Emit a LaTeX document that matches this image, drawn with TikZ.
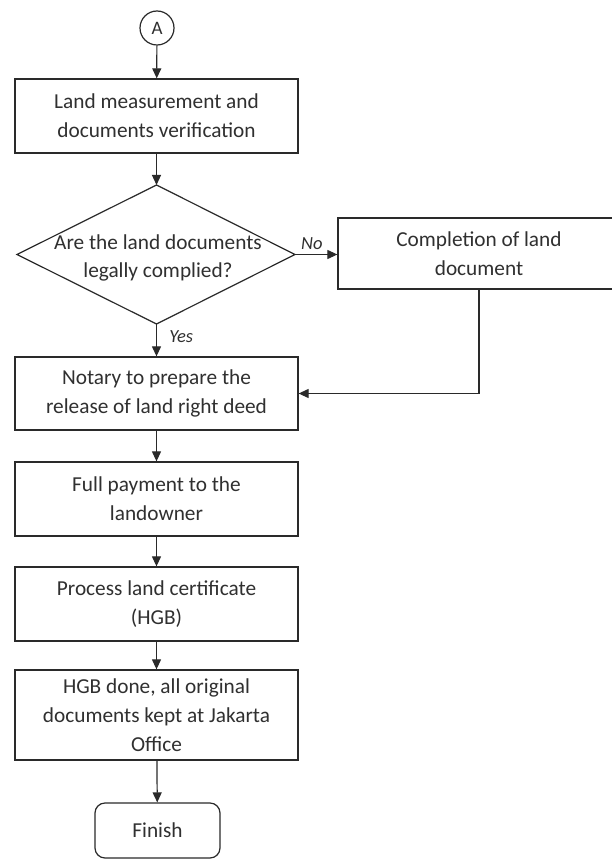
\documentclass[tikz,border=0pt]{standalone}
\usepackage{fontspec}
\setmainfont{Carlito}
\usetikzlibrary{arrows.meta,calc}
\definecolor{ink}{HTML}{2A2A2A}
\definecolor{txt}{HTML}{303030}
\begin{document}
\begin{tikzpicture}[x=1pt,y=-1pt,
  every node/.style={text=txt},
  procbox/.style={draw=ink,line width=1.3pt,rectangle,minimum width=283pt,align=center,font=\fontsize{21.3}{28.7}\selectfont,inner sep=0pt},
  conn/.style={draw=ink,line width=1.2pt,-{Triangle[length=10pt,width=9pt]}},
  lbl/.style={font=\fontsize{18.5}{20}\selectfont\itshape}]
\useasboundingbox (0,0) rectangle (611,861);
\fill[white] (0,0) rectangle (611,861);

\node[draw=ink,line width=1.2pt,circle,minimum size=34pt,inner sep=0pt,font=\fontsize{19}{20}\selectfont] (A) at (157,28) {A};
\node[procbox,minimum height=74pt] (b1) at (156.5,116) {Land measurement and\\documents verification};

% decision diamond
\coordinate (dT) at (156.5,185);
\coordinate (dB) at (156.5,324);
\coordinate (dL) at (17,254.5);
\coordinate (dR) at (295,254.5);
\draw[ink,line width=1.2pt] (dT) -- (dR) -- (dB) -- (dL) -- cycle;
\node[align=center,font=\fontsize{21.3}{28.7}\selectfont] (dq) at (158,258) {Are the land documents\\legally complied?};

\node[procbox,minimum width=282pt,minimum height=71pt] (c) at (479,253.5) {Completion of land\\document};

\node[procbox,minimum height=73pt] (b3) at (156.5,393.5) {Notary to prepare the\\release of land right deed};
\node[procbox,minimum height=74pt] (b4) at (156.5,499) {Full payment to the\\landowner};
\node[procbox,minimum height=74pt] (b5) at (156.5,604) {Process land certificate\\(HGB)};
\node[procbox,minimum height=90pt] (b6) at (156.5,715) {HGB done, all original\\documents kept at Jakarta\\Office};
\node[draw=ink,line width=1.2pt,rectangle,rounded corners=10pt,minimum width=125pt,minimum height=55pt,font=\fontsize{21.3}{28.7}\selectfont] (fin) at (157.5,830.5) {Finish};

\draw[conn] (A) -- (b1);
\draw[conn] (b1) -- (dT);
\draw[conn] (dR) -- (c.west |- dR) node[lbl,pos=0.4,above=1pt] (no) {No};
\draw[conn] (dB) -- (b3.north) node[lbl,pos=0.4,right=9pt] (yes) {Yes};
\draw[conn] (c.south) |- (b3.east);
\draw[conn] (b3) -- (b4);
\draw[conn] (b4) -- (b5);
\draw[conn] (b5) -- (b6);
\draw[conn] (b6) -- (fin);
\end{tikzpicture}
\end{document}
